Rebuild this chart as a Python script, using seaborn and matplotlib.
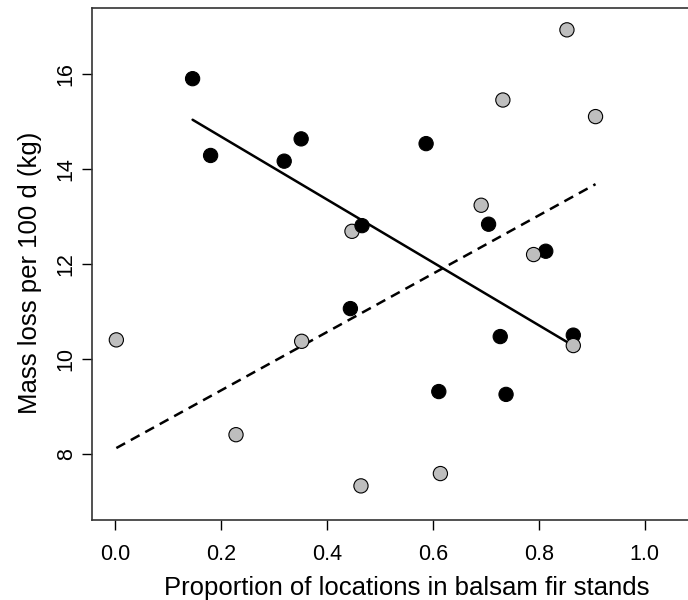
import matplotlib
matplotlib.use("Agg")
import matplotlib.pyplot as plt
import seaborn as sns
import pandas as pd
import numpy as np

# black points (one group) and grey points (other group)
black_x = [0.146, 0.180, 0.319, 0.351, 0.587, 0.466, 0.705, 0.813, 0.444, 0.727, 0.611, 0.738, 0.865]
black_y = [15.91, 14.29, 14.17, 14.64, 14.54, 12.81, 12.84, 12.27, 11.06, 10.47, 9.31, 9.25, 10.50]

grey_x = [0.002, 0.228, 0.352, 0.464, 0.614, 0.865, 0.853, 0.732, 0.907, 0.691, 0.447, 0.790]
grey_y = [10.40, 8.40, 10.37, 7.32, 7.58, 10.28, 16.94, 15.46, 15.11, 13.24, 12.69, 12.20]

x_ticks = [0.0, 0.2, 0.4, 0.6, 0.8, 1.0]
y_ticks = [8, 10, 12, 14, 16]

black = pd.DataFrame({"x": black_x, "y": black_y, "group": "black"})
grey = pd.DataFrame({"x": grey_x, "y": grey_y, "group": "grey"})

# drawing order: grey (0.447) under black, grey (0.865) over black
df = pd.concat([grey.iloc[[10]], black, grey.drop(index=10)], ignore_index=True)

sns.set_style("ticks")
plt.rcParams["font.family"] = ["Liberation Sans", "DejaVu Sans"]
plt.rcParams["text.color"] = "black"
plt.rcParams["axes.labelcolor"] = "black"
plt.rcParams["xtick.color"] = "black"
plt.rcParams["ytick.color"] = "black"

fig = plt.figure(figsize=(6.88, 6.0), dpi=100)
ax = fig.add_axes([0.1337, 0.1333, 0.9143, 0.8533])

sns.regplot(data=black, x="x", y="y", scatter=False, ci=None, truncate=True,
            color="black", line_kws={"lw": 1.8, "zorder": 2}, ax=ax)
sns.regplot(data=grey, x="x", y="y", scatter=False, ci=None, truncate=True,
            color="black", line_kws={"lw": 1.8, "ls": (0, (4, 2.6)), "zorder": 2}, ax=ax)

sns.scatterplot(data=df, x="x", y="y", hue="group",
                palette={"black": "black", "grey": "#BEBEBE"},
                s=105, edgecolor="black", linewidth=0.8, legend=False,
                zorder=3, ax=ax)

ax.set_xlim(-0.044, 1.144)
ax.set_ylim(6.6, 17.4)
ax.set_xticks(x_ticks)
ax.set_xticklabels([f"{t:.1f}" for t in x_ticks])
ax.set_yticks(y_ticks)
ax.set_yticklabels([str(t) for t in y_ticks], rotation=90, va="center")
ax.tick_params(axis="both", direction="out", length=7, width=1.0,
               labelsize=15.5, color="black")
ax.tick_params(axis="x", pad=10)
ax.tick_params(axis="y", pad=4)

for side in ["left", "bottom", "top", "right"]:
    ax.spines[side].set_visible(True)
    ax.spines[side].set_color("#333333")
    ax.spines[side].set_linewidth(1.2)

ax.set_xlabel("Proportion of locations in balsam fir stands", fontsize=18.5, labelpad=8)
ax.set_ylabel("Mass loss per 100 d (kg)", fontsize=18.5, labelpad=10, y=0.482)

fig.savefig("out.png", dpi=100)
